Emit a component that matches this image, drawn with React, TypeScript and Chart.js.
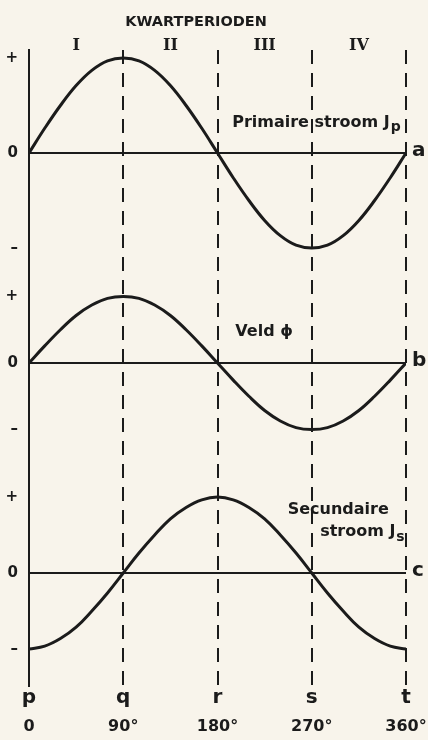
import { useEffect, useRef } from 'react';
import { Chart, registerables } from 'chart.js';

Chart.register(...registerables);

// ---- data ----
const angles = [0, 15, 30, 45, 60, 75, 90, 105, 120, 135, 150, 165, 180, 195, 210, 225, 240, 255, 270, 285, 300, 315, 330, 345, 360];
const primaryCurrent = [0, 0.26, 0.5, 0.71, 0.87, 0.97, 1.0, 0.97, 0.87, 0.71, 0.5, 0.26, 0, -0.26, -0.5, -0.71, -0.87, -0.97, -1.0, -0.97, -0.87, -0.71, -0.5, -0.26, 0];
const fieldFlux = [0, 0.18, 0.35, 0.5, 0.61, 0.68, 0.7, 0.68, 0.61, 0.5, 0.35, 0.18, 0, -0.18, -0.35, -0.5, -0.61, -0.68, -0.7, -0.68, -0.61, -0.5, -0.35, -0.18, 0];
const secondaryCurrent = [-0.8, -0.77, -0.69, -0.57, -0.4, -0.21, 0, 0.21, 0.4, 0.57, 0.69, 0.77, 0.8, 0.77, 0.69, 0.57, 0.4, 0.21, 0, -0.21, -0.4, -0.57, -0.69, -0.77, -0.8];

const angleTicks = [0, 90, 180, 270, 360];
const pointLetters = ['p', 'q', 'r', 's', 't'];
const degreeLabels = ['0', '90°', '180°', '270°', '360°'];
const quarterTicks = [45, 135, 225, 315];
const quarterLabels = ['I', 'II', 'III', 'IV'];
const panelLetters = ['a', 'b', 'c'];
const panelAmplitudes = [1.0, 0.7, 0.8];
const headerTitle = 'KWARTPERIODEN';

const INK = '#1b1b1b';
const PAPER = '#f8f4eb';
const SANS = '"DejaVu Sans", sans-serif';
const SERIF = '"DejaVu Serif", serif';

function makeY(idx: number, min: number, max: number, weight: number) {
  const amp = panelAmplitudes[idx];
  return {
    type: 'linear',
    position: 'left',
    stack: 'panels',
    stackWeight: weight,
    min,
    max,
    afterBuildTicks: (s: any) => {
      s.ticks = [-amp, 0, amp].map((v) => ({ value: v }));
    },
    afterFit: (s: any) => {
      s.width = 29;
      s.paddingTop = 0;
      s.paddingBottom = 0;
    },
    ticks: {
      callback: (v: any) => (v > 0 ? '+' : v < 0 ? '–' : '0'),
      font: { family: SANS, size: 15, weight: 'bold' },
      color: INK,
      padding: 11,
    },
    grid: {
      color: (c: any) => (c.tick && c.tick.value === 0 ? INK : 'rgba(0,0,0,0)'),
      lineWidth: 2,
      drawTicks: false,
    },
    border: { display: true, color: INK, width: 2 },
  };
}

function makeX(position: string, values: number[], labels: string[], font: any, padding: number, height: number) {
  return {
    type: 'linear',
    position,
    min: 0,
    max: 360,
    afterBuildTicks: (s: any) => {
      s.ticks = values.map((v) => ({ value: v }));
    },
    afterFit: (s: any) => {
      s.height = height;
      s.paddingLeft = 0;
      s.paddingRight = 0;
    },
    ticks: {
      callback: (v: any) => {
        const i = values.indexOf(v);
        return i >= 0 ? labels[i] : '';
      },
      font,
      color: INK,
      padding,
      maxRotation: 0,
      autoSkip: false,
    },
    grid: { display: false, drawTicks: false },
    border: { display: false },
  };
}

const seriesLabels = [
  { axis: 'yA', x: 194, y: 0.32, main: 'Primaire stroom J', sub: 'p' },
  { axis: 'yB', x: 197, y: 0.33, main: 'Veld ϕ', sub: '' },
  { axis: 'yC', x: 247, y: 0.66, main: 'Secundaire', sub: '' },
  { axis: 'yC', x: 278, y: 0.43, main: 'stroom J', sub: 's' },
];

const paperPlugin = {
  id: 'paper',
  beforeDraw(chart: any) {
    const { ctx, width, height } = chart;
    ctx.save();
    ctx.fillStyle = PAPER;
    ctx.fillRect(0, 0, width, height);
    ctx.restore();
  },
};

const textPlugin = {
  id: 'texts',
  afterDatasetsDraw(chart: any) {
    const { ctx, chartArea, scales } = chart;
    ctx.save();
    ctx.fillStyle = INK;
    ctx.textBaseline = 'middle';
    // header
    ctx.textAlign = 'center';
    ctx.font = `bold 14.5px ${SANS}`;
    ctx.fillText(headerTitle, scales.x.getPixelForValue(159.5), 22);
    ctx.textAlign = 'left';
    ['yA', 'yB', 'yC'].forEach((id, i) => {
      const y = scales[id].getPixelForValue(0);
      ctx.font = `bold 20px ${SANS}`;
      ctx.fillText(panelLetters[i], chartArea.right + 6, y - 2);
    });
    seriesLabels.forEach((l) => {
      const px = scales.x.getPixelForValue(l.x);
      const py = scales[l.axis].getPixelForValue(l.y);
      ctx.font = `bold 16px ${SANS}`;
      ctx.fillText(l.main, px, py);
      if (l.sub) {
        const w = ctx.measureText(l.main).width;
        ctx.font = `bold 14px ${SANS}`;
        ctx.fillText(l.sub, px + w + 1, py + 5);
      }
    });
    ctx.restore();
  },
};

export default function App() {
  const ref = useRef<HTMLCanvasElement | null>(null);

  useEffect(() => {
    if (!ref.current) return;
    const mk = (vals: number[]) => angles.map((a, i) => ({ x: a, y: vals[i] }));
    const line = (label: string, vals: number[], axis: string) => ({
      label,
      data: mk(vals),
      yAxisID: axis,
      xAxisID: 'x',
      borderColor: INK,
      borderWidth: 3,
      pointRadius: 0,
      fill: false,
      tension: 0.4,
    });
    const chart = new Chart(ref.current, {
      type: 'line',
      data: {
        datasets: [
          line('Primaire stroom Jp', primaryCurrent, 'yA'),
          line('Veld ϕ', fieldFlux, 'yB'),
          line('Secundaire stroom Js', secondaryCurrent, 'yC'),
        ],
      },
      options: {
        responsive: false,
        animation: false,
        layout: { padding: { top: 0, right: 22, bottom: 0, left: 0 } },
        plugins: { legend: { display: false }, tooltip: { enabled: false }, title: { display: false } },
        scales: {
          xTop: makeX('top', quarterTicks, quarterLabels, { family: SERIF, size: 16, weight: 'bold' }, -5, 50),
          x: {
            ...makeX('bottom', angleTicks, pointLetters, { family: SANS, size: 20, weight: 'bold' }, 0, 26),
            grid: { display: true, color: INK, lineWidth: 2, drawTicks: false },
            border: { display: false, dash: [14, 9] },
          },
          xDeg: makeX('bottom', angleTicks, degreeLabels, { family: SANS, size: 16, weight: 'bold' }, 5, 28),
          // stacked panels: the last one listed is placed on top
          yC: makeY(2, -1.189, 1.105, 218),
          yB: makeY(1, -1.105, 1.105, 210),
          yA: makeY(0, -1.105, 1.084, 208),
        },
      } as any,
      plugins: [paperPlugin, textPlugin],
    });
    return () => chart.destroy();
  }, []);

  return (
    <div style={{ position: 'absolute', left: 0, top: 0, width: 428, height: 740 }}>
      <canvas ref={ref} width={428} height={740} style={{ display: 'block' }} />
    </div>
  );
}
